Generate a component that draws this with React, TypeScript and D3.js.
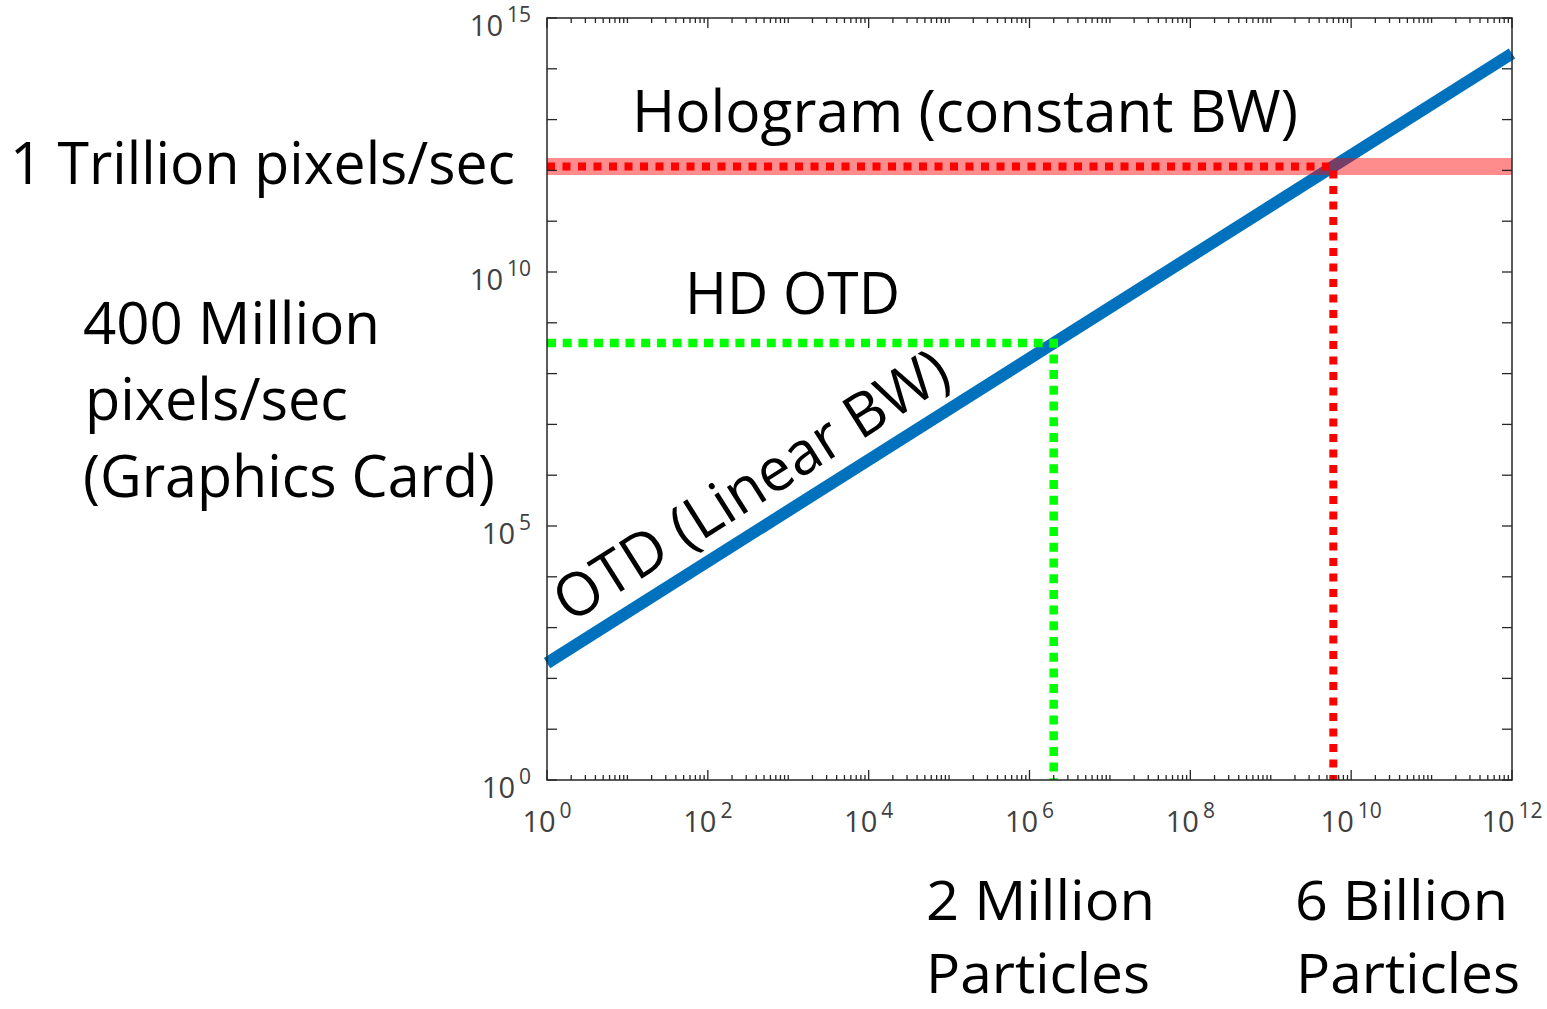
import * as d3 from 'd3';

// particles (x) vs. required bandwidth in pixels/sec (y)
const particleRange = [1, 1e12];
const otdRate = [200, 2e14];
const hologramRate = 1.2e12;
const hdParticles = 2e6;
const hdRate = 4e8;
const hologramParticles = 6e9;
const xTickExps = [0, 2, 4, 6, 8, 10, 12];
const yTickExps = [0, 5, 10, 15];

const W = 1547;
const H = 1009;
const FONT = '"Open Sans", "Noto Sans", sans-serif';

export default function App() {
  const x = d3.scaleLog().domain([1, 1e12]).range([547, 1512]);
  const y = d3.scaleLog().domain([1, 1e15]).range([780, 18]);
  const [x0, x1] = x.range();
  const [y0, y1] = y.range();

  const otdLine = d3.line<[number, number]>()
    .x((d) => x(d[0]))
    .y((d) => y(d[1]));
  const otdPts: [number, number][] = particleRange.map((p, i) => [p, otdRate[i]]);

  const angle =
    (Math.atan2(y(otdRate[0]) - y(otdRate[1]), x(particleRange[1]) - x(particleRange[0])) * 180) /
    Math.PI;

  // x minor ticks: 2..9 of every decade plus the odd decades
  const xMinor: number[] = [];
  d3.range(0, 12).forEach((k) => {
    d3.range(2, 10).forEach((m) => xMinor.push(m * 10 ** k));
    if (k % 2 === 1) xMinor.push(10 ** k);
  });
  const yMajor = d3.range(0, 16).map((k) => 10 ** k);

  const axisColor = '#262626';
  const tickColor = '#404040';

  return (
    <svg width={W} height={H} style={{ position: 'absolute', left: 0, top: 0, background: '#fff' }}>
      {/* OTD line */}
      <path d={otdLine(otdPts) ?? ''} fill="none" stroke="#0072BD" strokeWidth={12} />

      {/* HD OTD marker */}
      <path
        d={`M${x0},${y(hdRate)}H${x(hdParticles)}V${y0}`}
        fill="none"
        stroke="#00FF00"
        strokeWidth={8.5}
        strokeDasharray="9 6.7"
      />

      {/* hologram band */}
      <line x1={x0} x2={x1} y1={y(hologramRate)} y2={y(hologramRate)} stroke="#FF0000" strokeOpacity={0.45} strokeWidth={17} />
      <path
        d={`M${x0},${y(hologramRate)}H${x(hologramParticles)}V${y0}`}
        fill="none"
        stroke="#FF0000"
        strokeWidth={8}
        strokeDasharray="8 7.5"
      />

      {/* axes box */}
      <rect x={x0} y={y1} width={x1 - x0} height={y0 - y1} fill="none" stroke={axisColor} strokeWidth={1.5} />

      {/* y ticks */}
      {yMajor.map((v) => (
        <g key={`yt${v}`} stroke={axisColor} strokeWidth={1.3}>
          <line x1={x0} x2={x0 + 10} y1={y(v)} y2={y(v)} />
          <line x1={x1} x2={x1 - 10} y1={y(v)} y2={y(v)} />
        </g>
      ))}
      {/* x ticks */}
      {xTickExps.map((e) => (
        <g key={`xt${e}`} stroke={axisColor} strokeWidth={1.3}>
          <line x1={x(10 ** e)} x2={x(10 ** e)} y1={y0} y2={y0 - 10} />
          <line x1={x(10 ** e)} x2={x(10 ** e)} y1={y1} y2={y1 + 10} />
        </g>
      ))}
      {xMinor.map((v) => (
        <g key={`xm${v}`} stroke={axisColor} strokeWidth={1.3}>
          <line x1={x(v)} x2={x(v)} y1={y0} y2={y0 - 5} />
          <line x1={x(v)} x2={x(v)} y1={y1} y2={y1 + 5} />
        </g>
      ))}

      {/* tick labels */}
      {yTickExps.map((e) => (
        <text key={`yl${e}`} x={531} y={y(10 ** e) + 18} textAnchor="end" fill={tickColor} fontFamily={FONT} fontSize={29}>
          10
          <tspan dx={4} dy={-14} fontSize={21}>{e}</tspan>
        </text>
      ))}
      {xTickExps.map((e) => (
        <text key={`xl${e}`} x={x(10 ** e)} y={y0 + 52} textAnchor="middle" fill={tickColor} fontFamily={FONT} fontSize={29}>
          10
          <tspan dx={4} dy={-14} fontSize={21}>{e}</tspan>
        </text>
      ))}

      {/* annotations */}
      <g fill="#000" fontFamily={FONT} fontSize={58}>
        <text x={632} y={132} textLength={666} lengthAdjust="spacingAndGlyphs">Hologram (constant BW)</text>
        <text x={10} y={184} textLength={505} lengthAdjust="spacingAndGlyphs">1 Trillion pixels/sec</text>
        <text x={685} y={314} textLength={215} lengthAdjust="spacingAndGlyphs">HD OTD</text>
        <text x={83} y={344} textLength={297} lengthAdjust="spacingAndGlyphs">400 Million</text>
        <text x={85} y={420} textLength={263} lengthAdjust="spacingAndGlyphs">pixels/sec</text>
        <text x={83} y={497} textLength={412} lengthAdjust="spacingAndGlyphs">(Graphics Card)</text>
      </g>
      <g fill="#000" fontFamily={FONT} fontSize={54}>
        <text x={926} y={920} textLength={229} lengthAdjust="spacingAndGlyphs">2 Million</text>
        <text x={926} y={993} textLength={224} lengthAdjust="spacingAndGlyphs">Particles</text>
        <text x={1295} y={920} textLength={213} lengthAdjust="spacingAndGlyphs">6 Billion</text>
        <text x={1296} y={993} textLength={224} lengthAdjust="spacingAndGlyphs">Particles</text>
      </g>
      <text
        transform={`translate(570,624) rotate(${-angle})`}
        textLength={454}
        lengthAdjust="spacingAndGlyphs"
        fill="#000"
        fontFamily={FONT}
        fontSize={60}
      >
        OTD (Linear BW)
      </text>
    </svg>
  );
}
